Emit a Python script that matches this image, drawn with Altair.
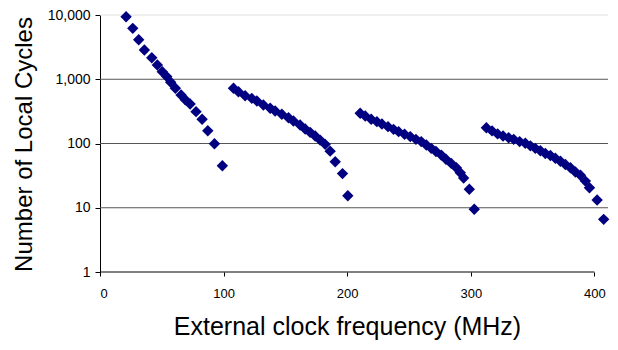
import altair as alt
import pandas as pd

# Segment data (x: MHz, y: local cycles)
seg1_x = [21.1, 26.5, 31.3, 35.9, 41.9, 46.4, 50.4, 54.0, 57.2, 61.0, 65.6, 69.0, 72.9, 77.7, 82.6, 87.2, 92.6, 99.0]
seg1_y = [9400, 6200, 4130, 2850, 2160, 1670, 1310, 1100, 900, 723, 569, 480, 412, 313, 238, 158, 99, 45]

seg2_x = [108, 112, 117.4, 122.8, 126.9, 132.2, 137.7, 141.7, 147.1, 152.5, 156.5, 161.9, 166, 170, 174.1, 178.1, 182.2, 186.2, 190.3, 196.2, 200.5]
seg2_y = [723, 640, 554, 504, 459, 397, 353, 321, 285, 252, 224, 194, 168, 149, 131, 113, 97, 76, 52, 34, 15.4]

seg3_x = [210.5, 214.6, 219.4, 224, 228.1, 233, 237.5, 241.6, 246.4, 251, 255.6, 259.9, 264, 268, 271.8, 276.1, 279.9, 284.2, 288.3, 291.5, 294.2, 298.8, 302.8]
seg3_y = [295, 268, 238, 219, 201, 183, 166, 153, 139, 128, 116, 107, 95, 84, 75, 66, 57, 49, 42, 35, 29, 19.4, 9.5]

seg4_x = [312.6, 317.2, 321.7, 326.1, 330.6, 334.7, 339.5, 344.1, 348.2, 352.2, 356.3, 360.3, 364.4, 368.4, 372.5, 376.5, 380.6, 384.6, 388.7, 392.7, 396, 402.2, 407.5]
seg4_y = [176, 157, 141, 131, 123, 116, 107, 101, 92, 84, 77, 70, 65, 59, 53, 47, 42, 36, 32, 26, 20.5, 13.2, 6.6]

x_ticks = [0, 100, 200, 300, 400]
y_ticks = [1, 10, 100, 1000, 10000]
grid_dark = [10, 100, 1000]
grid_light = [10000]

df = pd.DataFrame({
    "freq": seg1_x + seg2_x + seg3_x + seg4_x,
    "cycles": seg1_y + seg2_y + seg3_y + seg4_y,
})

W, H = 508, 257
FONT = "Liberation Sans"

xscale = alt.Scale(domain=[0, 411], nice=False, zero=False)
yscale = alt.Scale(type="log", domain=[1, 10000], nice=False)

xaxis = alt.Axis(
    values=x_ticks, grid=False, domain=False, tickColor="black", tickSize=4,
    labelFont=FONT, labelFontSize=13, labelColor="black", labelPadding=11,
    title="External clock frequency (MHz)", titleFont=FONT, titleFontSize=25,
    titleFontWeight="normal", titleColor="black", titleX=247, titleY=62,
    titleAlign="center", titleBaseline="alphabetic",
)
yaxis = alt.Axis(
    values=y_ticks, format=",.0f", grid=False, domain=True, domainColor="black",
    tickColor="black", tickSize=5, labelFont=FONT, labelFontSize=14,
    labelColor="black", labelPadding=5,
    title="Number of Local Cycles", titleFont=FONT, titleFontSize=24,
    titleFontWeight="normal", titleColor="black", titleAngle=270,
    titleX=-76, titleY=129, titleAlign="center", titleBaseline="middle",
)

gdark = alt.Chart(pd.DataFrame({"g": grid_dark})).mark_rule(
    color="#555555", strokeWidth=1
).encode(y=alt.Y("g:Q", scale=yscale), x=alt.value(0), x2=alt.value(W))

glight = alt.Chart(pd.DataFrame({"g": grid_light})).mark_rule(
    color="#e0e0e0", strokeWidth=1
).encode(y=alt.Y("g:Q", scale=yscale), x=alt.value(0), x2=alt.value(W))

xline = alt.Chart(pd.DataFrame({"a": [0], "b": [400]})).mark_rule(
    color="black", strokeWidth=1
).encode(x=alt.X("a:Q", scale=xscale), x2="b:Q", y=alt.value(H))

pts = alt.Chart(df).mark_point(
    shape="diamond", filled=True, size=130, color="#000080", opacity=1
).encode(
    x=alt.X("freq:Q", scale=xscale, axis=xaxis),
    y=alt.Y("cycles:Q", scale=yscale, axis=yaxis),
)

chart = alt.layer(glight, gdark, xline, pts).properties(
    width=W, height=H,
    autosize=alt.AutoSizeParams(type="none"),
    padding={"left": 92, "top": 7, "right": 2, "bottom": 70},
    background="white",
).configure_view(stroke=None)

chart.save("out.html", embed_options={"renderer": "svg", "actions": False})
